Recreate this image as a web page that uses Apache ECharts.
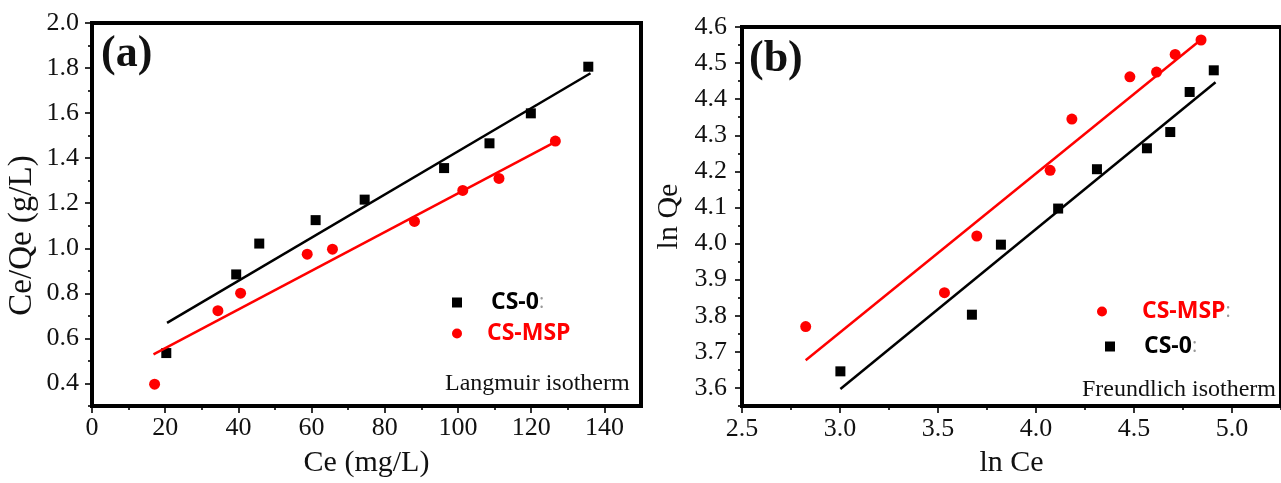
<!DOCTYPE html>
<html>
<head>
<meta charset="utf-8">
<script src="https://cdn.jsdelivr.net/npm/echarts@6.0.0/dist/echarts.min.js"></script>
<style>
  html, body { margin: 0; padding: 0; background: #fff; }
  #chart { width: 1281px; height: 483px; }
</style>
</head>
<body>
<div id="chart"></div>
<script>
// (a) Langmuir: Ce vs Ce/Qe
const langCeCS0 = [20.3, 39.4, 45.7, 61.1, 74.5, 96.2, 108.6, 119.9, 135.6];
const langRatioCS0 = [0.535, 0.884, 1.021, 1.125, 1.216, 1.356, 1.466, 1.599, 1.806];
const langCeMSP = [17.1, 34.4, 40.6, 58.8, 65.7, 88.1, 101.3, 111.2, 126.6];
const langRatioMSP = [0.397, 0.723, 0.801, 0.974, 0.996, 1.119, 1.257, 1.310, 1.476];
// fitted lines, end points
const langFitCS0 = [[20.5, 0.669], [136.2, 1.777]];
const langFitMSP = [[16.8, 0.529], [126.6, 1.472]];

// (b) Freundlich: ln Ce vs ln Qe
const freuLnCeMSP = [2.825, 3.533, 3.698, 4.072, 4.183, 4.479, 4.615, 4.710, 4.842];
const freuLnQeMSP = [3.770, 3.864, 4.021, 4.203, 4.345, 4.462, 4.475, 4.524, 4.564];
const freuLnCeCS0 = [3.002, 3.673, 3.821, 4.113, 4.311, 4.566, 4.685, 4.784, 4.907];
const freuLnQeCS0 = [3.646, 3.803, 3.997, 4.097, 4.206, 4.264, 4.309, 4.420, 4.480];
const freuFitMSP = [[2.825, 3.677], [4.846, 4.567]];
const freuFitCS0 = [[3.002, 3.597], [4.916, 4.447]];

// tick values
const langXTicks = [0, 20, 40, 60, 80, 100, 120, 140];
const langXMinor = [10, 30, 50, 70, 90, 110, 130];
const langYTicks = [0.4, 0.6, 0.8, 1.0, 1.2, 1.4, 1.6, 1.8, 2.0];
const langYMinor = [0.3, 0.5, 0.7, 0.9, 1.1, 1.3, 1.5, 1.7, 1.9];
const freuXTicks = [2.5, 3.0, 3.5, 4.0, 4.5, 5.0];
const freuXMinor = [2.75, 3.25, 3.75, 4.25, 4.75, 5.25];
const freuYTicks = [3.6, 3.7, 3.8, 3.9, 4.0, 4.1, 4.2, 4.3, 4.4, 4.5, 4.6];
const freuYMinor = [3.55, 3.65, 3.75, 3.85, 3.95, 4.05, 4.15, 4.25, 4.35, 4.45, 4.55];

const SERIF = 'Liberation Serif';
const RED = '#ff0000';
const INK = '#111';

function pairs(xs, ys) {
  return xs.map((x, i) => [x, ys[i]]);
}

// main axis: thick line, labelled ticks
function mainAxis(gridIndex, min, max, ticks, opts) {
  return Object.assign({
    type: 'value',
    gridIndex: gridIndex,
    min: min,
    max: max,
    splitLine: { show: false },
    axisLine: { show: true, onZero: false, lineStyle: { color: '#000', width: 4 } },
    axisTick: { show: true, customValues: ticks, length: 7, lineStyle: { color: '#000', width: 1.6 } },
    nameLocation: 'middle',
    nameTextStyle: { fontFamily: SERIF, fontSize: 30, color: INK }
  }, opts);
}

// minor ticks only
function minorAxis(gridIndex, min, max, ticks, position) {
  return {
    type: 'value',
    gridIndex: gridIndex,
    min: min,
    max: max,
    position: position,
    splitLine: { show: false },
    axisLine: { show: false, onZero: false },
    axisLabel: { show: false },
    axisTick: { show: true, customValues: ticks, length: 4, lineStyle: { color: '#000', width: 1.6 } }
  };
}

function legendItem(name, color, left, top, pad, colon) {
  return {
    data: [{ name: name, icon: name === 'CS-0' ? 'rect' : 'circle' }],
    left: left,
    top: top,
    padding: 0,
    itemWidth: 10,
    itemHeight: 10,
    selectedMode: false,
    formatter: n => '{n|' + n + '}' + (colon ? '{c|:}' : ''),
    textStyle: {
      rich: {
        n: { fontFamily: 'Open Sans', fontWeight: 'bold', fontSize: 23, lineHeight: 28, color: color, padding: [0, 0, 0, pad] },
        c: { fontFamily: 'Open Sans', fontSize: 20, lineHeight: 28, color: '#999' }
      }
    }
  };
}

const chart = echarts.init(document.getElementById('chart'), null, { renderer: 'canvas' });

const option = {
  backgroundColor: '#ffffff',
  animation: false,
  grid: [
    { left: 92, right: 640, top: 23, bottom: 74, show: true, borderColor: '#000', borderWidth: 4, backgroundColor: 'transparent' },
    { left: 742, right: -7, top: 27, bottom: 70, show: true, borderColor: '#000', borderWidth: 4, backgroundColor: 'transparent' }
  ],
  xAxis: [
    mainAxis(0, 0, 150, langXTicks, {
      position: 'bottom',
      name: 'Ce (mg/L)',
      nameGap: 42,
      axisLabel: { customValues: langXTicks, fontFamily: SERIF, fontSize: 26, color: INK, margin: 9 }
    }),
    minorAxis(0, 0, 150, langXMinor, 'bottom'),
    mainAxis(1, 2.5, 5.25, freuXTicks, {
      position: 'bottom',
      name: 'ln Ce',
      nameGap: 42,
      axisLabel: { customValues: freuXTicks, fontFamily: SERIF, fontSize: 26, color: INK, margin: 10, formatter: v => v.toFixed(1) }
    }),
    minorAxis(1, 2.5, 5.25, freuXMinor, 'bottom')
  ],
  yAxis: [
    mainAxis(0, 0.3, 2.0, langYTicks, {
      position: 'left',
      name: 'Ce/Qe (g/L)',
      nameGap: 53,
      nameTextStyle: { fontFamily: SERIF, fontSize: 33, color: INK, padding: [0, 42, 0, 0] },
      axisLabel: { customValues: langYTicks, fontFamily: SERIF, fontSize: 26, color: INK, margin: 13, formatter: v => v.toFixed(1) }
    }),
    minorAxis(0, 0.3, 2.0, langYMinor, 'left'),
    mainAxis(1, 3.55, 4.6, freuYTicks, {
      position: 'left',
      name: 'ln Qe',
      nameGap: 58,
      axisLabel: { customValues: freuYTicks, fontFamily: SERIF, fontSize: 26, color: INK, margin: 15, formatter: v => v.toFixed(1) }
    }),
    minorAxis(1, 3.55, 4.6, freuYMinor, 'left')
  ],
  legend: [
    legendItem('CS-0', '#000', 452, 291, 24, true),
    legendItem('CS-MSP', RED, 452, 322, 20, false),
    legendItem('CS-MSP', RED, 1097, 300, 30, true),
    legendItem('CS-0', '#000', 1105, 335, 24, true)
  ],
  graphic: [
    { type: 'text', left: 101, top: 33, style: { text: '(a)', font: 'bold 44px "Liberation Serif"', fill: INK } },
    { type: 'text', left: 749, top: 38, style: { text: '(b)', font: 'bold 44px "Liberation Serif"', fill: INK } },
    { type: 'text', left: 445, top: 372, style: { text: 'Langmuir isotherm', font: '24px "Liberation Serif"', fill: INK } },
    { type: 'text', left: 1082, top: 378, style: { text: 'Freundlich isotherm', font: '24px "Liberation Serif"', fill: INK } }
  ],
  series: [
    // fit lines first so the markers sit on top
    { name: 'CS-0 Langmuir fit', type: 'line', xAxisIndex: 0, yAxisIndex: 0, symbol: 'none', lineStyle: { color: '#000', width: 2.5 }, data: langFitCS0 },
    { name: 'CS-MSP Langmuir fit', type: 'line', xAxisIndex: 0, yAxisIndex: 0, symbol: 'none', lineStyle: { color: RED, width: 2.5 }, data: langFitMSP },
    { name: 'CS-0 Freundlich fit', type: 'line', xAxisIndex: 2, yAxisIndex: 2, symbol: 'none', lineStyle: { color: '#000', width: 2.5 }, data: freuFitCS0 },
    { name: 'CS-MSP Freundlich fit', type: 'line', xAxisIndex: 2, yAxisIndex: 2, symbol: 'none', lineStyle: { color: RED, width: 2.5 }, data: freuFitMSP },
    { name: 'CS-0', type: 'scatter', xAxisIndex: 0, yAxisIndex: 0, symbol: 'rect', symbolSize: 10, itemStyle: { color: '#000', opacity: 1 }, data: pairs(langCeCS0, langRatioCS0) },
    { name: 'CS-MSP', type: 'scatter', xAxisIndex: 0, yAxisIndex: 0, symbol: 'circle', symbolSize: 11, itemStyle: { color: RED, opacity: 1 }, data: pairs(langCeMSP, langRatioMSP) },
    { name: 'CS-0', type: 'scatter', xAxisIndex: 2, yAxisIndex: 2, symbol: 'rect', symbolSize: 10, itemStyle: { color: '#000', opacity: 1 }, data: pairs(freuLnCeCS0, freuLnQeCS0) },
    { name: 'CS-MSP', type: 'scatter', xAxisIndex: 2, yAxisIndex: 2, symbol: 'circle', symbolSize: 11, itemStyle: { color: RED, opacity: 1 }, data: pairs(freuLnCeMSP, freuLnQeMSP) }
  ]
};

chart.setOption(option);
</script>
</body>
</html>
